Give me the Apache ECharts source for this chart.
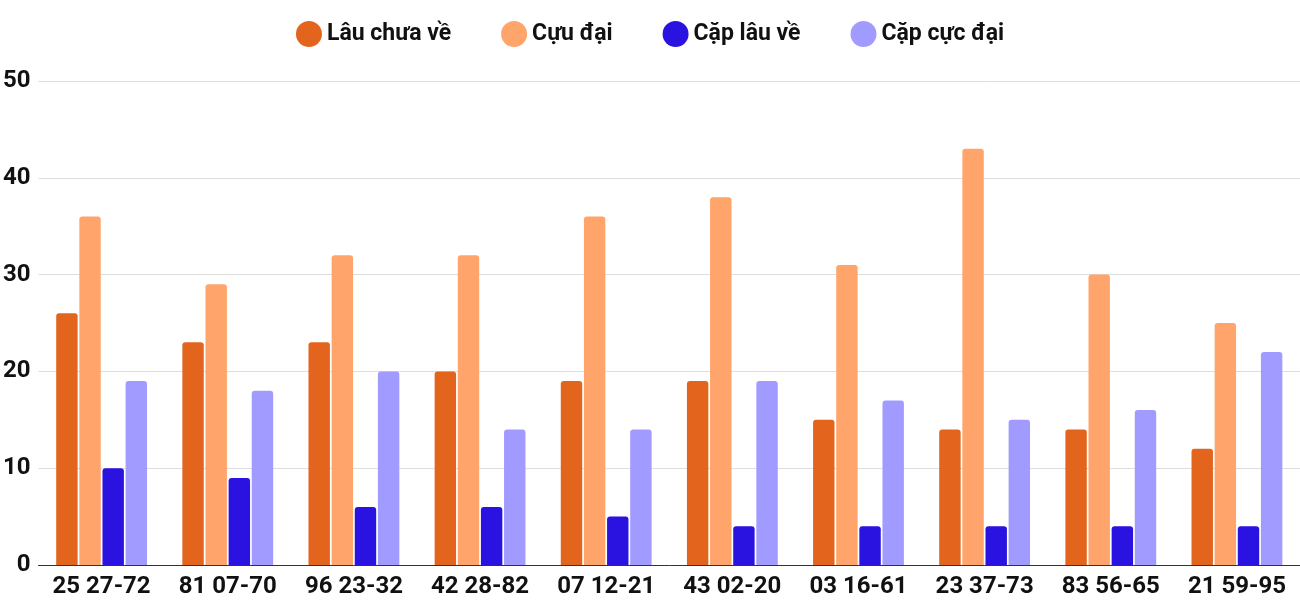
<!DOCTYPE html>
<html><head><meta charset="utf-8">
<script src="https://cdn.jsdelivr.net/npm/echarts@6/dist/echarts.min.js"></script>
<style>html,body{margin:0;padding:0;background:#fff}#c{width:1300px;height:600px}</style>
</head><body><div id="c"></div>
<script>
const categories = ["25 27-72","81 07-70","96 23-32","42 28-82","07 12-21","43 02-20","03 16-61","23 37-73","83 56-65","21 59-95"];
const lauChuaVe = [26,23,23,20,19,19,15,14,14,12];
const cuuDai = [36,29,32,32,36,38,31,43,30,25];
const capLauVe = [10,9,6,6,5,4,4,4,4,4];
const capCucDai = [19,18,20,14,14,19,17,15,16,22];
const names = ["Lâu chưa về","Cựu đại","Cặp lâu về","Cặp cực đại"];
const colors = ["#e3651d","#ffa56b","#2a12e0","#a29bff"];
const data = [lauChuaVe,cuuDai,capLauVe,capCucDai];
const font = "Roboto";
const chart = echarts.init(document.getElementById('c'));
chart.setOption({
  animation:false,
  textStyle:{fontFamily:font},
  legend:{top:16,left:'center',itemGap:50,icon:'circle',itemWidth:26,itemHeight:26,
    textStyle:{fontSize:23,fontWeight:'bold',color:'#111',fontFamily:font}},
  grid:{left:37,right:0,top:81,bottom:35},
  xAxis:{type:'category',data:categories,axisTick:{show:false},
    axisLine:{lineStyle:{color:'#333'}},
    axisLabel:{fontSize:24,fontWeight:'bold',color:'#111',margin:10,interval:0}},
  yAxis:{type:'value',min:0,max:50,interval:10,
    axisLabel:{fontSize:24,fontWeight:'bold',color:'#111',margin:8},
    splitLine:{lineStyle:{color:'#ddd'}}},
  series:data.map((d,i)=>({name:names[i],type:'bar',data:d,
    barGap:'8%',barCategoryGap:'28%',
    itemStyle:{color:colors[i],borderRadius:[3,3,0,0]}}))
});
</script></body></html>
